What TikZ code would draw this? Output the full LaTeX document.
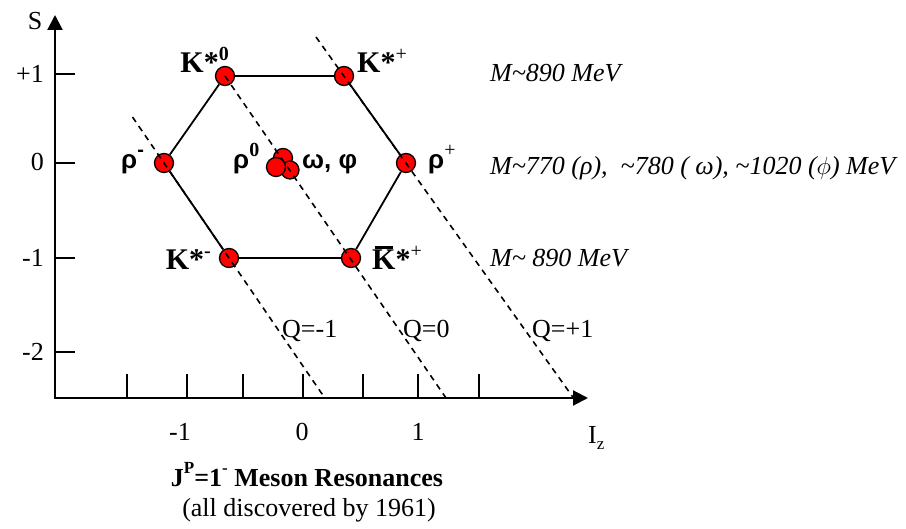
\documentclass[tikz,border=0pt]{standalone}
\usepackage{fontspec}
\setmainfont{Liberation Serif}
\setsansfont{Liberation Sans}
\usetikzlibrary{arrows.meta}
\newcommand\supr[1]{\raisebox{0.5em}{\fontsize{17}{17}\selectfont #1}}
\newcommand\supk[1]{\raisebox{12.5pt}{\fontsize{20}{20}\selectfont #1}}
\newcommand\Kbar{\makebox[0pt][l]{\hspace{0.08em}\rule[0.7em]{0.62em}{0.1em}}K}
\begin{document}
\begin{tikzpicture}[x=1pt,y=-1pt,
  dot/.style={circle,draw=black,fill=red,line width=1.3pt,minimum size=19pt,inner sep=0pt},
  hexedge/.style={line width=1.8pt},
  qline/.style={line width=1.6pt,dash pattern=on 6pt off 5pt},
  axisline/.style={line width=2.2pt,{Triangle[length=15pt,width=15pt]}-{Triangle[length=15pt,width=15pt]}},
  tickline/.style={line width=2pt},
  lbl/.style={font=\fontsize{26}{30}\selectfont,inner sep=0pt},
  plbl/.style={font=\fontsize{30}{34}\selectfont\bfseries,inner sep=0pt},
  slbl/.style={font=\fontsize{26}{30}\selectfont\sffamily\bfseries,inner sep=0pt},
  mlbl/.style={font=\fontsize{26}{30}\selectfont\itshape,inner sep=0pt,anchor=base west},
]
\fill[white] (0,0) rectangle (906,529);
\useasboundingbox (0,0) rectangle (906,529);

% axes
\coordinate (O) at (55,398);
\coordinate (ytip) at (55,15);
\coordinate (xtip) at (588,398);
\draw[axisline] (ytip) -- (O) -- (xtip);
\foreach \yy in {74,163,258,352} \draw[tickline] (55,\yy) -- (75,\yy);
\foreach \xx in {127,187,243,303,363,418,479} \draw[tickline] (\xx,398) -- (\xx,374);

\node[lbl] (S) at (35,21) {S};
\node[lbl,anchor=base west] (Iz) at (588,444) {I\raisebox{-0.22em}{\fontsize{17}{17}\selectfont z}};
\node[lbl,anchor=east] (yp1) at (44,74) {+1};
\node[lbl,anchor=east] (y0) at (44,162) {0};
\node[lbl,anchor=east] (ym1) at (44,258) {-1};
\node[lbl,anchor=east] (ym2) at (44,352) {-2};
\node[lbl] (xm1) at (180,432) {-1};
\node[lbl] (x0) at (302,432) {0};
\node[lbl] (xp1) at (418,432) {1};

% particles
\node[dot] (ks0) at (225,76) {};
\node[dot] (ksp) at (344,76) {};
\node[dot] (rhom) at (164,163) {};
\node[dot] (rhop) at (406,163) {};
\node[dot] (ksm) at (229,258) {};
\node[dot] (kbp) at (351,258) {};
\node[dot] (c1) at (283,158) {};
\node[dot,minimum size=18pt] (c2) at (290,170) {};
\node[dot] (c3) at (276,167) {};

\draw[hexedge] (ks0) -- (ksp) -- (rhop) -- (kbp) -- (ksm) -- (rhom) -- (ks0);

% charge lines
\coordinate (qmt) at (132.5,117);
\coordinate (qmb) at (324.8,398);
\coordinate (qzb) at (446,398);
\coordinate (qpt) at (316,37);
\coordinate (qpb) at (573.5,398);
\draw[qline] (qmt) -- (qmb);
\draw[qline] (ks0.center) -- (qzb);
\draw[qline] (qpt) -- (qpb);

\node[lbl,anchor=base west] (qm1) at (282,338) {Q=-1};
\node[lbl,anchor=base west] (qz) at (403,338) {Q=0};
\node[lbl,anchor=base west] (qp1) at (532,338) {Q=+1};

% particle labels
\node[plbl,anchor=base east] (lks0) at (229,73) {K*\supk{0}};
\node[plbl,anchor=base west] (lksp) at (357,73) {K*\supk{\mdseries +}};
\node[slbl,anchor=base west] (lrhom) at (121,169) {ρ\supk{-}};
\node[slbl,anchor=base west] (lrho0) at (233,169) {ρ\supk{\rmfamily 0}};
\node[slbl,anchor=base west] (lomphi) at (302,169) {ω, φ};
\node[slbl,anchor=base west] (lrhop) at (428,169) {ρ\supk{\rmfamily\mdseries +}};
\node[plbl,anchor=base east] (lksm) at (211,270) {K*\supk{-}};
\node[plbl,anchor=base west] (lkbp) at (372,270) {\Kbar*\supk{\mdseries +}};

% masses
\node[mlbl] (m1) at (490,82) {M\textasciitilde 890 MeV};
\node[mlbl] (m2) at (490,175) {M\textasciitilde 770 (ρ),\ \ \textasciitilde 780 (\ ω), \textasciitilde 1020 ($\phi$) MeV};
\node[mlbl] (m3) at (490,267) {M\textasciitilde\ 890 MeV};

% caption
\node[font=\fontsize{26}{30}\selectfont\bfseries,inner sep=0pt,anchor=base] (cap1) at (307,486) {J\supr{P}=1\supr{-} Meson Resonances};
\node[font=\fontsize{26}{30}\selectfont,inner sep=0pt,anchor=base] (cap2) at (309,516) {(all discovered by 1961)};
\end{tikzpicture}
\end{document}
